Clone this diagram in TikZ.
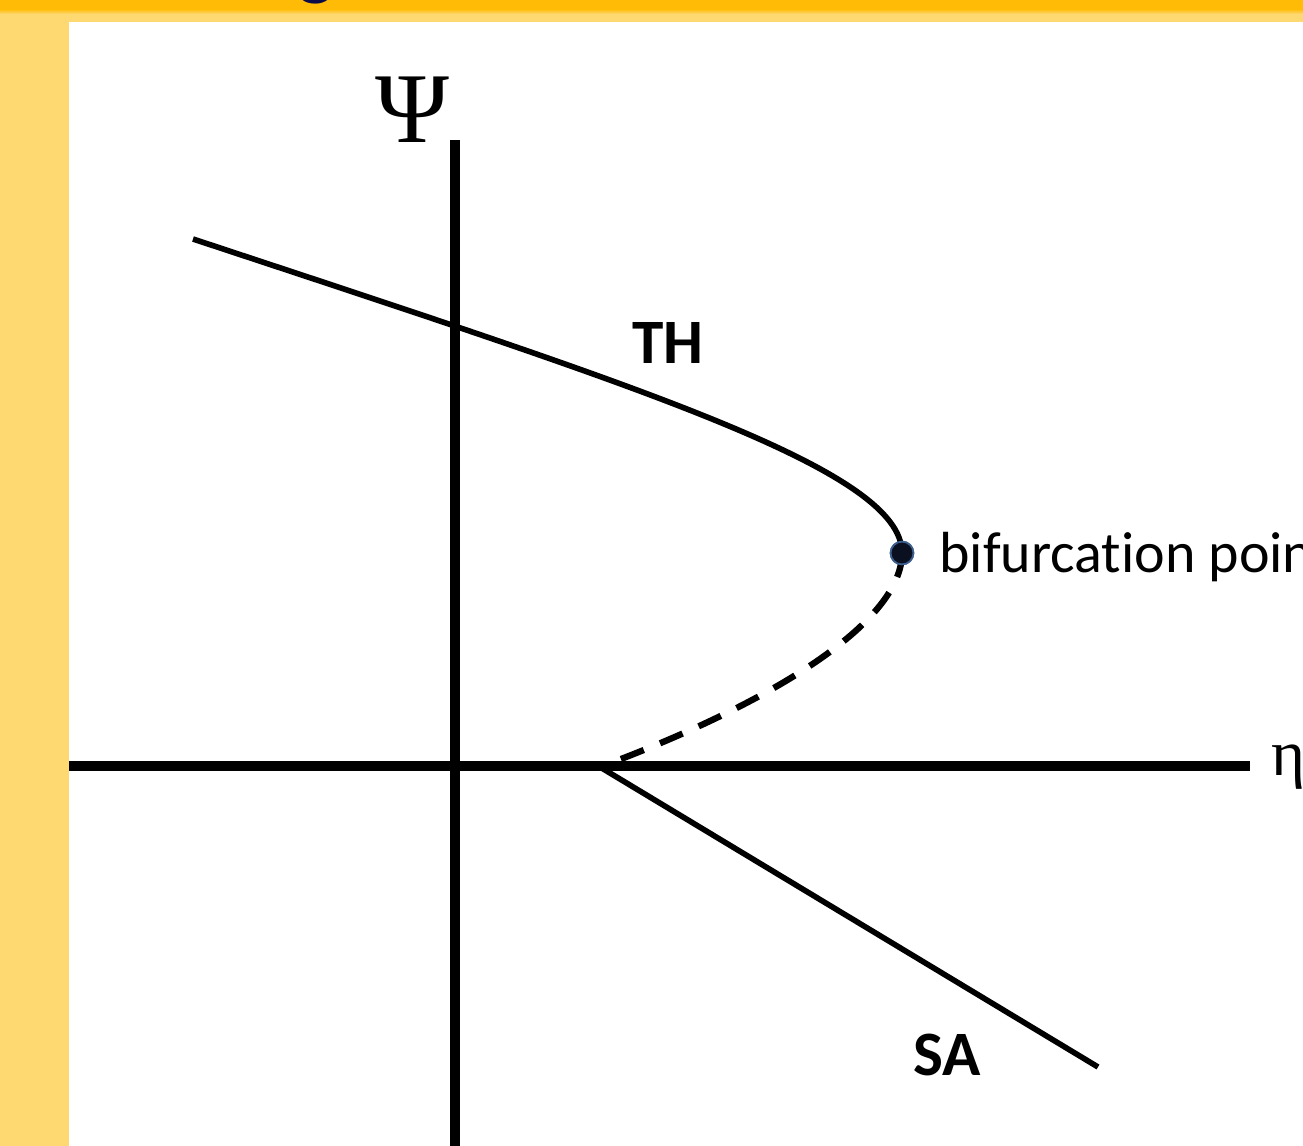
\documentclass[tikz,border=0pt]{standalone}
\usepackage{fontspec}
\setmainfont{Carlito}[Ligatures=NoCommon]
\newfontfamily\greekfont{Liberation Serif}
\usetikzlibrary{arrows.meta,calc,positioning}
\definecolor{bandorange}{HTML}{FFBB05}
\definecolor{bandyellow}{HTML}{FED870}
\definecolor{titlenavy}{HTML}{0B0B4A}
\definecolor{dotnavy}{HTML}{0A1020}
\definecolor{dotrim}{HTML}{3E5F8E}
\begin{document}
\begin{tikzpicture}[x=0.02cm,y=-0.02cm,
axis/.style={line width=5.2pt},
branch/.style={line width=3.2pt},
unstable/.style={line width=3.6pt,dash pattern=on 14pt off 10pt},
lab/.style={inner sep=0pt,font=\fontsize{36}{40}\selectfont\bfseries}]
\useasboundingbox (0,0) rectangle (1303,1146);
\clip (0,0) rectangle (1303,1146);
% background strips
\fill[bandyellow] (0,0) rectangle (1303,22);
\fill[bandyellow] (0,0) rectangle (69,1146);
\fill[bandorange] (0,0) rectangle (1303,9);
\shade[top color=bandorange,bottom color=bandyellow] (0,9) rectangle (1303,14);
\node[inner sep=0pt,anchor=base,text=titlenavy,font=\fontsize{45}{50}\selectfont] (title) at (316,-10) {g};
% axes
\coordinate (Xl) at (69,766);
\coordinate (Xr) at (1250,766);
\coordinate (Yt) at (455,140);
\coordinate (Yb) at (455,1146);
\draw[axis] (Xl)--(Xr);
\draw[axis] (Yt)--(Yb);
\node[inner sep=0pt,anchor=base,font=\greekfont\fontsize{57}{60}\selectfont] (Psi) at (412,142) {Ψ};
\node[inner sep=0pt,anchor=base west,font=\greekfont\fontsize{37}{40}\selectfont] (eta) at (1271,775) {η};
% branches
\coordinate (T0) at (193,239);
\coordinate (S0) at (600,767);
\coordinate (S1) at (1098,1067);
\node[circle,fill=dotnavy,draw=dotrim,line width=1pt,minimum size=13pt,inner sep=0pt] (B) at (902,553) {};
\draw[branch] (T0) .. controls (643,388) and (902,470) .. (B.center);
\draw[unstable] (B.center) .. controls (902,620) and (780,700) .. (S0);
\draw[branch] (S0)--(S1);
\node[circle,fill=dotnavy,draw=dotrim,line width=1pt,minimum size=13pt,inner sep=0pt] at (B) {};
% labels
\node[lab,anchor=base] (TH) at (668,363) {TH};
\node[lab,anchor=base] (SA) at (947,1075) {SA};
\node[inner sep=0pt,anchor=base west,font=\fontsize{33}{38}\selectfont] (bif) at (939,572) {bifurcation point};
\end{tikzpicture}
\end{document}
